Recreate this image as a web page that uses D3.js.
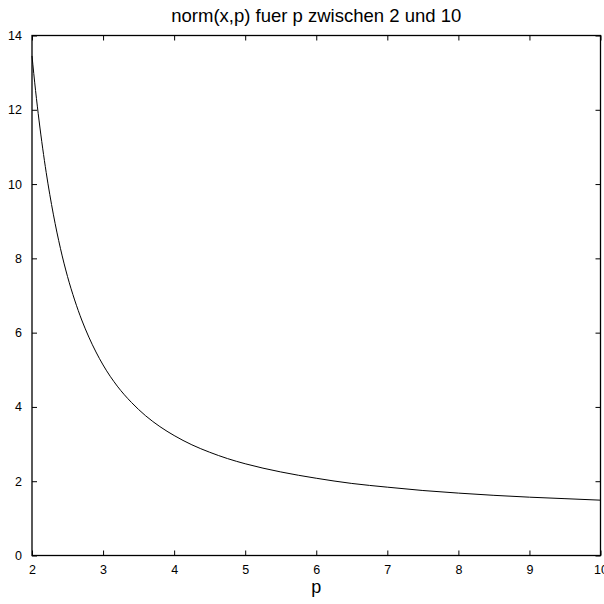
<!DOCTYPE html>
<html><head><meta charset="utf-8">
<script src="https://cdn.jsdelivr.net/npm/d3@7"></script>
<style>body{margin:0;background:#fff}svg{display:block}text{font-family:"Liberation Sans",Arial,sans-serif;fill:#000}</style>
</head><body><svg id="c" width="604" height="604"></svg>
<script>
const pValues = [2, 2.05, 2.1, 2.2, 2.3, 2.4, 2.5, 2.6, 2.7, 2.8, 2.9, 3.0, 3.2, 3.4, 3.6, 3.8, 4.0, 4.25, 4.5, 4.75, 5.0, 5.5, 6.0, 6.5, 7.0, 7.5, 8.0, 8.5, 9.0, 9.5, 10];
const normValues = [13.45, 12.52, 11.70, 10.31, 9.19, 8.27, 7.51, 6.88, 6.34, 5.88, 5.48, 5.13, 4.56, 4.12, 3.76, 3.47, 3.23, 2.98, 2.78, 2.61, 2.47, 2.25, 2.08, 1.94, 1.84, 1.75, 1.68, 1.62, 1.57, 1.53, 1.49];
const xTicks = [2, 3, 4, 5, 6, 7, 8, 9, 10];
const yTicks = [0, 2, 4, 6, 8, 10, 12, 14];
const titleText = "norm(x,p) fuer p zwischen 2 und 10";
const xLabelText = "p";

const svg = d3.select("#c");
const L = 32, R = 600.5, T = 35.5, B = 555.5;
const x = d3.scaleLinear().domain([2, 10]).range([L, R]);
const y = d3.scaleLinear().domain([0, 14]).range([B, T]);

const fs = 12.5;
const gB = svg.append("g").attr("transform", `translate(0,${B})`)
  .call(d3.axisBottom(x).tickValues(xTicks).tickSizeInner(-5).tickSizeOuter(0).tickPadding(10).tickFormat(d3.format("d")));
const gL = svg.append("g").attr("transform", `translate(${L},0)`)
  .call(d3.axisLeft(y).tickValues(yTicks).tickSizeInner(-5).tickSizeOuter(0).tickPadding(10).tickFormat(d3.format("d")));
const gT = svg.append("g").attr("transform", `translate(0,${T})`)
  .call(d3.axisTop(x).tickValues(xTicks).tickSizeInner(-5).tickSizeOuter(0).tickFormat(""));
const gR = svg.append("g").attr("transform", `translate(${R},0)`)
  .call(d3.axisRight(y).tickValues(yTicks).tickSizeInner(-5).tickSizeOuter(0).tickFormat(""));
[gB, gL, gT, gR].forEach(g => {
  g.selectAll(".domain").remove();
  g.selectAll("line").attr("stroke", "#000").attr("stroke-width", 1);
  g.selectAll("text").attr("font-size", fs).attr("font-family", "Liberation Sans, Arial, sans-serif").attr("fill", "#000");
});
gB.selectAll("text").attr("dy", "0.71em");

svg.append("rect").attr("x", L).attr("y", T).attr("width", R - L).attr("height", B - T)
  .attr("fill", "none").attr("stroke", "#000").attr("stroke-width", 1.3);

const data = pValues.map((p, i) => [p, normValues[i]]);
svg.append("path").datum(data)
  .attr("d", d3.line().x(d => x(d[0])).y(d => y(d[1])).curve(d3.curveMonotoneX))
  .attr("fill", "none").attr("stroke", "#000").attr("stroke-width", 1);

svg.append("text").attr("x", (L + R) / 2).attr("y", 22).attr("text-anchor", "middle")
  .attr("font-size", 18.5).text(titleText);
svg.append("text").attr("x", (L + R) / 2).attr("y", 593).attr("text-anchor", "middle")
  .attr("font-size", 18).text(xLabelText);
</script></body></html>
